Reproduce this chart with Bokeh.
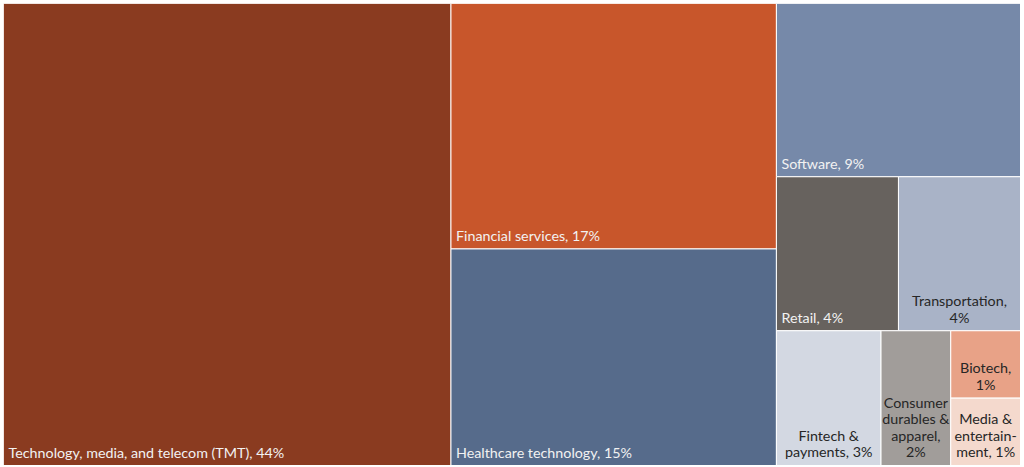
from bokeh.plotting import figure
from bokeh.models import Range1d, ColumnDataSource
from bokeh.core.properties import value
from bokeh.embed import file_html
from bokeh.resources import INLINE

# ---- data ----
sectors = ["Technology, media, and telecom (TMT)", "Financial services", "Healthcare technology",
           "Software", "Retail", "Transportation", "Fintech & payments",
           "Consumer durables & apparel", "Biotech", "Media & entertainment"]
shares = [44, 17, 15, 9, 4, 4, 3, 2, 1, 1]
labels = ["Technology, media, and telecom (TMT), 44%", "Financial services, 17%",
          "Healthcare technology, 15%", "Software, 9%", "Retail, 4%",
          "Transportation,\n4%", "Fintech &\npayments, 3%",
          "Consumer\ndurables &\napparel,\n2%", "Biotech,\n1%", "Media &\nentertain-\nment, 1%"]
colors = ["#8A3B20", "#C8562B", "#566B8B", "#7689A9", "#67625E", "#A9B3C7",
          "#D3D8E2", "#A19D9A", "#E8A287", "#F4D9CD"]
text_colors = ["#F2F2F2", "#F2F2F2", "#F2F2F2", "#F2F2F2", "#F2F2F2",
               "#262626", "#262626", "#262626", "#262626", "#262626"]

W, H = 1017, 462


def worst(row, side, scale):
    s = sum(row) * scale
    rmax, rmin = max(row) * scale, min(row) * scale
    return max(side * side * rmax / (s * s), (s * s) / (side * side * rmin))


def squarify(vals, x, y, w, h):
    rects = []
    i = 0
    while i < len(vals):
        rem = sum(vals[i:])
        scale = (w * h) / rem
        side = min(w, h)
        row = [vals[i]]
        j = i + 1
        while j < len(vals) and worst(row + [vals[j]], side, scale) <= worst(row, side, scale):
            row.append(vals[j])
            j += 1
        rowarea = sum(row) * scale
        if w >= h:  # column at left, stacked vertically
            cw = rowarea / h
            cy = y
            for v in row:
                rh = v * scale / cw
                rects.append((x, cy, cw, rh))
                cy += rh
            x += cw
            w -= cw
        else:  # row at top, laid horizontally
            rh = rowarea / w
            cx = x
            for v in row:
                rw = v * scale / rh
                rects.append((cx, y, rw, rh))
                cx += rw
            y += rh
            h -= rh
        i = j
    return rects


rects = squarify(shares, 0, 0, W, H)

src = ColumnDataSource(dict(
    left=[r[0] for r in rects], right=[r[0] + r[2] for r in rects],
    top=[r[1] for r in rects], bottom=[r[1] + r[3] for r in rects],
    color=colors))

p = figure(width=W, height=H, output_backend="svg", toolbar_location=None,
           x_range=Range1d(0, W), y_range=Range1d(H, 0), min_border=0,
           margin=(3, 0, 0, 3))
p.axis.visible = False
p.grid.visible = False
p.outline_line_color = None
p.background_fill_color = "white"
p.border_fill_color = "white"

p.quad(left="left", right="right", top="top", bottom="bottom", source=src,
       fill_color="color", line_color="white", line_width=1)

lx, ly, lt, lc, la = [], [], [], [], []
for r, lab, tc in zip(rects, labels, text_colors):
    x0, y0, w, h = r
    if "\n" in lab:
        lx.append(x0 + w / 2)
        la.append("center")
    else:
        lx.append(x0 + 5)
        la.append("left")
    ly.append(y0 + h - 5)
    lt.append(lab)
    lc.append(tc)

tsrc = ColumnDataSource(dict(x=lx, y=ly, text=lt, color=lc, align=la))
p.text(x="x", y="y", text="text", source=tsrc, text_color="color",
       text_align="align", text_baseline="bottom", text_font=value("Lato"),
       text_font_size="14.3px", text_line_height=0.98)

open("out.html", "w").write(file_html(p, INLINE))
